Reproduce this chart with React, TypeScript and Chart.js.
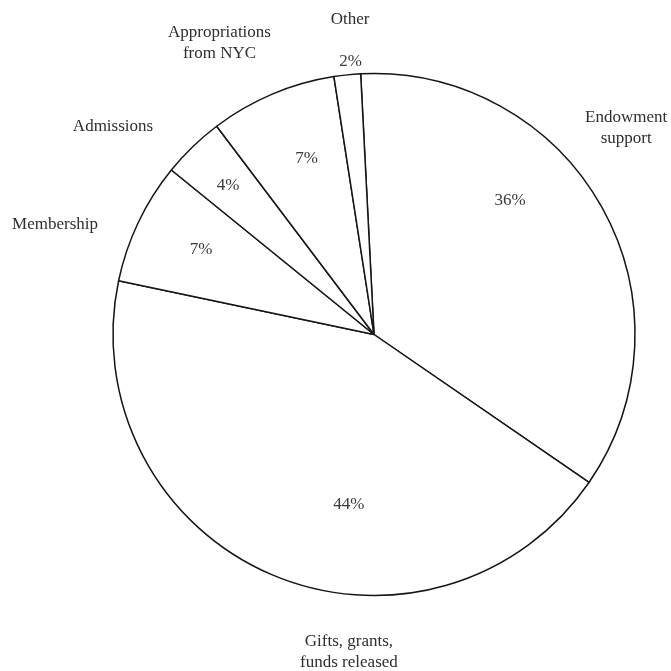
import React, { useEffect, useRef } from "react";
import { Chart, registerables } from "chart.js";

Chart.register(...registerables);

const categories: string[][] = [
  ["Endowment", "support"],
  ["Gifts, grants,", "funds released"],
  ["Membership"],
  ["Admissions"],
  ["Appropriations", "from NYC"],
  ["Other"],
];
const values: number[] = [35.4, 43.7, 7.55, 3.85, 7.84, 1.64];
const percentLabels: string[] = ["36%", "44%", "7%", "4%", "7%", "2%"];

// label placement, in units of the pie radius relative to its centre
const nameOffsets: [number, number][] = [
  [0.966, -0.791],
  [-0.096, 1.218],
  [-1.222, -0.42],
  [-1.0, -0.796],
  [-0.592, -1.117],
  [-0.092, -1.205],
];
const pctOffsets: [number, number][] = [
  [0.521, -0.515],
  [-0.096, 0.653],
  [-0.663, -0.324],
  [-0.559, -0.569],
  [-0.258, -0.674],
  [-0.09, -1.045],
];

const FONT = '17px "Liberation Serif", "DejaVu Serif", serif';
const LINE_H = 21;

const labelPlugin = {
  id: "pieLabels",
  afterDatasetsDraw(chart: any) {
    const meta = chart.getDatasetMeta(0);
    const arc = meta.data[0];
    if (!arc) return;
    const { x, y, outerRadius } = arc.getProps(["x", "y", "outerRadius"], true);
    const r = outerRadius;
    const ctx = chart.ctx;
    ctx.save();
    ctx.font = FONT;
    ctx.textAlign = "center";
    ctx.textBaseline = "middle";
    categories.forEach((lines, i) => {
      const [ox, oy] = nameOffsets[i];
      const cx = x + ox * r;
      const cy = y + oy * r;
      ctx.fillStyle = "#2e2e2e";
      const start = cy - ((lines.length - 1) * LINE_H) / 2;
      lines.forEach((ln, j) => ctx.fillText(ln, cx, start + j * LINE_H));
      const [px, py] = pctOffsets[i];
      ctx.fillStyle = "#3a3a3a";
      ctx.fillText(percentLabels[i], x + px * r, y + py * r);
    });
    ctx.restore();
  },
};

export default function App() {
  const ref = useRef<HTMLCanvasElement | null>(null);
  useEffect(() => {
    document.body.style.margin = "0";
    document.body.style.background = "#ffffff";
    if (!ref.current) return;
    const chart = new Chart(ref.current, {
      type: "pie",
      data: {
        labels: categories.map((c) => c.join(" ")),
        datasets: [
          {
            data: values,
            backgroundColor: "#ffffff",
            borderColor: "#151515",
            borderWidth: 1.5,
            hoverOffset: 0,
          },
        ],
      },
      options: {
        responsive: false,
        animation: false,
        devicePixelRatio: 1,
        rotation: -2.93,
        events: [],
        layout: { padding: { left: 112.25, right: 35.25, top: 72.75, bottom: 74.75 } },
        plugins: {
          legend: { display: false },
          tooltip: { enabled: false },
          title: { display: false },
        },
      },
      plugins: [labelPlugin],
    });
    return () => chart.destroy();
  }, []);
  return (
    <div style={{ width: 671, height: 671, background: "#fff" }}>
      <canvas ref={ref} width={671} height={671} style={{ display: "block" }} />
    </div>
  );
}
